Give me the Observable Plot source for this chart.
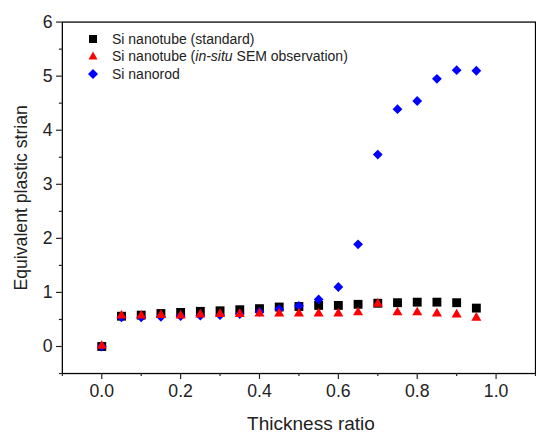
<!DOCTYPE html>
<html>
<head>
<meta charset="utf-8">
<script src="https://cdn.jsdelivr.net/npm/d3@7"></script>
<script src="https://cdn.jsdelivr.net/npm/@observablehq/plot@0.6"></script>
<style>
  html, body { margin: 0; padding: 0; background: white; }
  #wrap { position: relative; width: 536px; height: 435px; overflow: hidden; font-family: "Liberation Sans", Arial, sans-serif; }
  #legend { position: absolute; left: 84px; top: 30px; font-size: 14px; color: #222; }
  #legend .row { display: flex; align-items: center; height: 17.5px; }
  #legend svg { width: 18px; height: 14px; margin-right: 10px; }
  #xtitle { position: absolute; left: 211px; width: 200px; top: 414px; text-align: center; font-size: 19px; color: #222; line-height: 20px; }
</style>
</head>
<body>
<div id="wrap">
  <div id="legend">
    <div class="row"><svg viewBox="0 0 18 14"><rect x="5" y="3" width="8" height="8" fill="#000"/></svg><span>Si nanotube (standard)</span></div>
    <div class="row"><svg viewBox="0 0 18 14"><polygon points="9,2.5 13.5,10.5 4.5,10.5" fill="#ff0000"/></svg><span>Si nanotube (<i>in-situ</i> SEM observation)</span></div>
    <div class="row"><svg viewBox="0 0 18 14"><polygon points="9,2 14,7 9,12 4,7" fill="#0000ff"/></svg><span>Si nanorod</span></div>
  </div>
  <div id="xtitle">Thickness ratio</div>
</div>
<script>
const thickness = [0, 0.05, 0.10, 0.15, 0.20, 0.25, 0.30, 0.35, 0.40, 0.45, 0.50, 0.55, 0.60, 0.65, 0.70, 0.75, 0.80, 0.85, 0.90, 0.95];
const nanotubeStandard = [0.00, 0.56, 0.58, 0.61, 0.63, 0.65, 0.66, 0.68, 0.70, 0.73, 0.74, 0.76, 0.76, 0.78, 0.80, 0.81, 0.82, 0.82, 0.81, 0.71];
const nanotubeInSitu = [0.01, 0.57, 0.57, 0.58, 0.57, 0.59, 0.60, 0.60, 0.61, 0.61, 0.61, 0.61, 0.61, 0.63, 0.79, 0.63, 0.63, 0.61, 0.59, 0.53];
const nanorod = [0.00, 0.54, 0.54, 0.55, 0.56, 0.57, 0.58, 0.60, 0.64, 0.69, 0.75, 0.87, 1.10, 1.89, 3.55, 4.39, 4.54, 4.95, 5.11, 5.10];

const xMajorTicks = [0, 0.2, 0.4, 0.6, 0.8, 1.0];
const xMinorTicks = [-0.1, 0.1, 0.3, 0.5, 0.7, 0.9, 1.1];
const yMajorTicks = [0, 1, 2, 3, 4, 5, 6];
const yMinorTicks = [-0.5, 0.5, 1.5, 2.5, 3.5, 4.5, 5.5];

const rows = (ys) => thickness.map((x, i) => ({x, y: ys[i]}));

const chart = Plot.plot({
  width: 546,
  height: 435,
  marginTop: 22,
  marginBottom: 55,
  marginLeft: 63,
  marginRight: 1,
  style: {fontFamily: "'Liberation Sans', Arial, sans-serif", fontSize: "18px", color: "#222", background: "white"},
  x: {domain: [-0.1, 1.1]},
  y: {domain: [-0.5, 6]},
  marks: [
    Plot.frame({stroke: "#000", strokeWidth: 1.3}),
    Plot.axisX(xMajorTicks, {tickSize: 6, tickPadding: 5, strokeWidth: 1.2, tickFormat: d3.format(".1f"), fontSize: 18, label: null}),
    Plot.axisX(xMinorTicks, {tickSize: 3, strokeWidth: 1.2, tickFormat: () => "", label: null}),
    Plot.axisY(yMajorTicks, {tickSize: 6, tickPadding: 4, strokeWidth: 1.2, fontSize: 18, tickFormat: d3.format("d"),
      label: "Equivalent plastic strian", labelAnchor: "center", labelArrow: "none", labelOffset: 49}),
    Plot.axisY(yMinorTicks, {tickSize: 3, strokeWidth: 1.2, tickFormat: () => "", label: null}),
    Plot.dot(rows(nanotubeStandard), {x: "x", y: "y", symbol: "square", r: 5.1, fill: "#000", stroke: "none"}),
    Plot.dot(rows(nanorod), {x: "x", y: "y", symbol: "diamond2", r: 4.5, fill: "#0000ff", stroke: "none"}),
    Plot.dot(rows(nanotubeInSitu), {x: "x", y: "y", symbol: "triangle", r: 3.8, fill: "#ff0000", stroke: "none"})
  ]
});
document.getElementById("wrap").prepend(chart);
</script>
</body>
</html>
